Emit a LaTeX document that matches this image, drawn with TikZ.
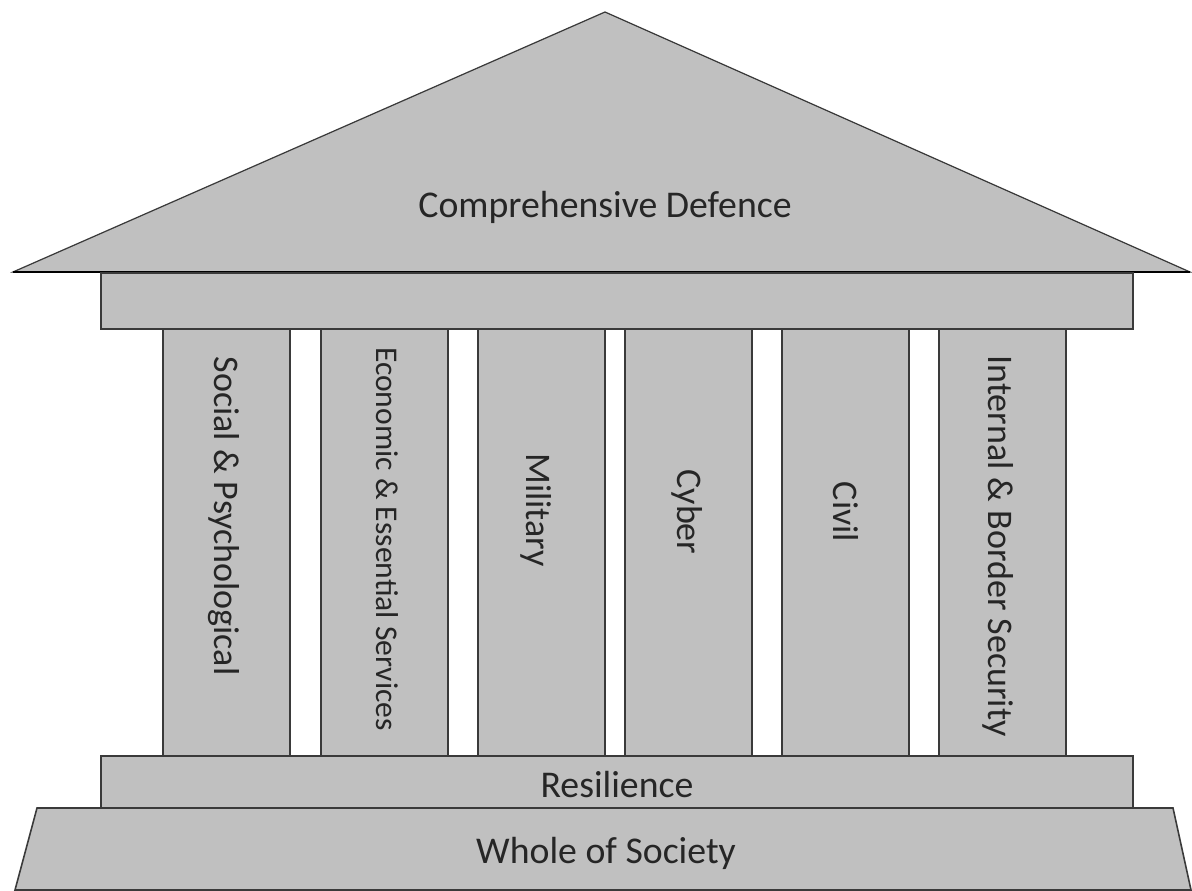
\documentclass[tikz,border=0pt]{standalone}
\usepackage{fontspec}
\setmainfont{Carlito}
\usetikzlibrary{positioning}

\definecolor{stonegray}{HTML}{C0C0C0}
\definecolor{edgegray}{HTML}{3A3A3A}

\begin{document}
\begin{tikzpicture}[x=0.02cm, y=-0.02cm,
		block/.style={draw=edgegray, fill=stonegray, line width=0.9pt, line join=miter},
		label/.style={font=\fontsize{21.5}{24}\selectfont, text=black!85},
		pillartext/.style={font=\fontsize{20.5}{23}\selectfont, text=black!85, rotate=-90}]
			\useasboundingbox (0, 0) rectangle (1192, 891);
			% roof
			\draw[block, line width=0.7pt] (13, 272)--(605, 12)--(1190, 272)--cycle;
			\draw[black, line width=1.6pt] (13, 272)--(1190, 272);
			% architrave
			\draw[block] (101, 273) rectangle (1133, 329);
			% pillars
			\foreach \px in {163, 321, 478, 625, 782, 939}
				\draw[block] (\px, 329) rectangle ({\px + 127}, 756);
			% steps
			\draw[block] (101, 756) rectangle (1133, 808);
			\draw[block] (37, 808)--(1173, 808)--(1191, 890)--(15, 890)--cycle;
			% texts
			\node[label, anchor=base] (defence) at (605, 218) {Comprehensive Defence};
			\node[label, anchor=base] (resilience) at (617, 797) {Resilience};
			\node[label, anchor=base] (society) at (606, 863) {Whole of Society};
			\node[pillartext] (social) at (224, 516) {Social \& Psychological};
			\node[pillartext, font=\fontsize{18}{21}\selectfont] (economic) at (387, 539) {Economic \& Essential Services};
			\node[pillartext] (military) at (536, 510) {Military};
			\node[pillartext] (cyber) at (687, 512) {Cyber};
			\node[pillartext] (civil) at (846, 512) {Civil};
			\node[pillartext] (border) at (998, 546) {Internal \& Border Security};
		\end{tikzpicture}
\end{document}
